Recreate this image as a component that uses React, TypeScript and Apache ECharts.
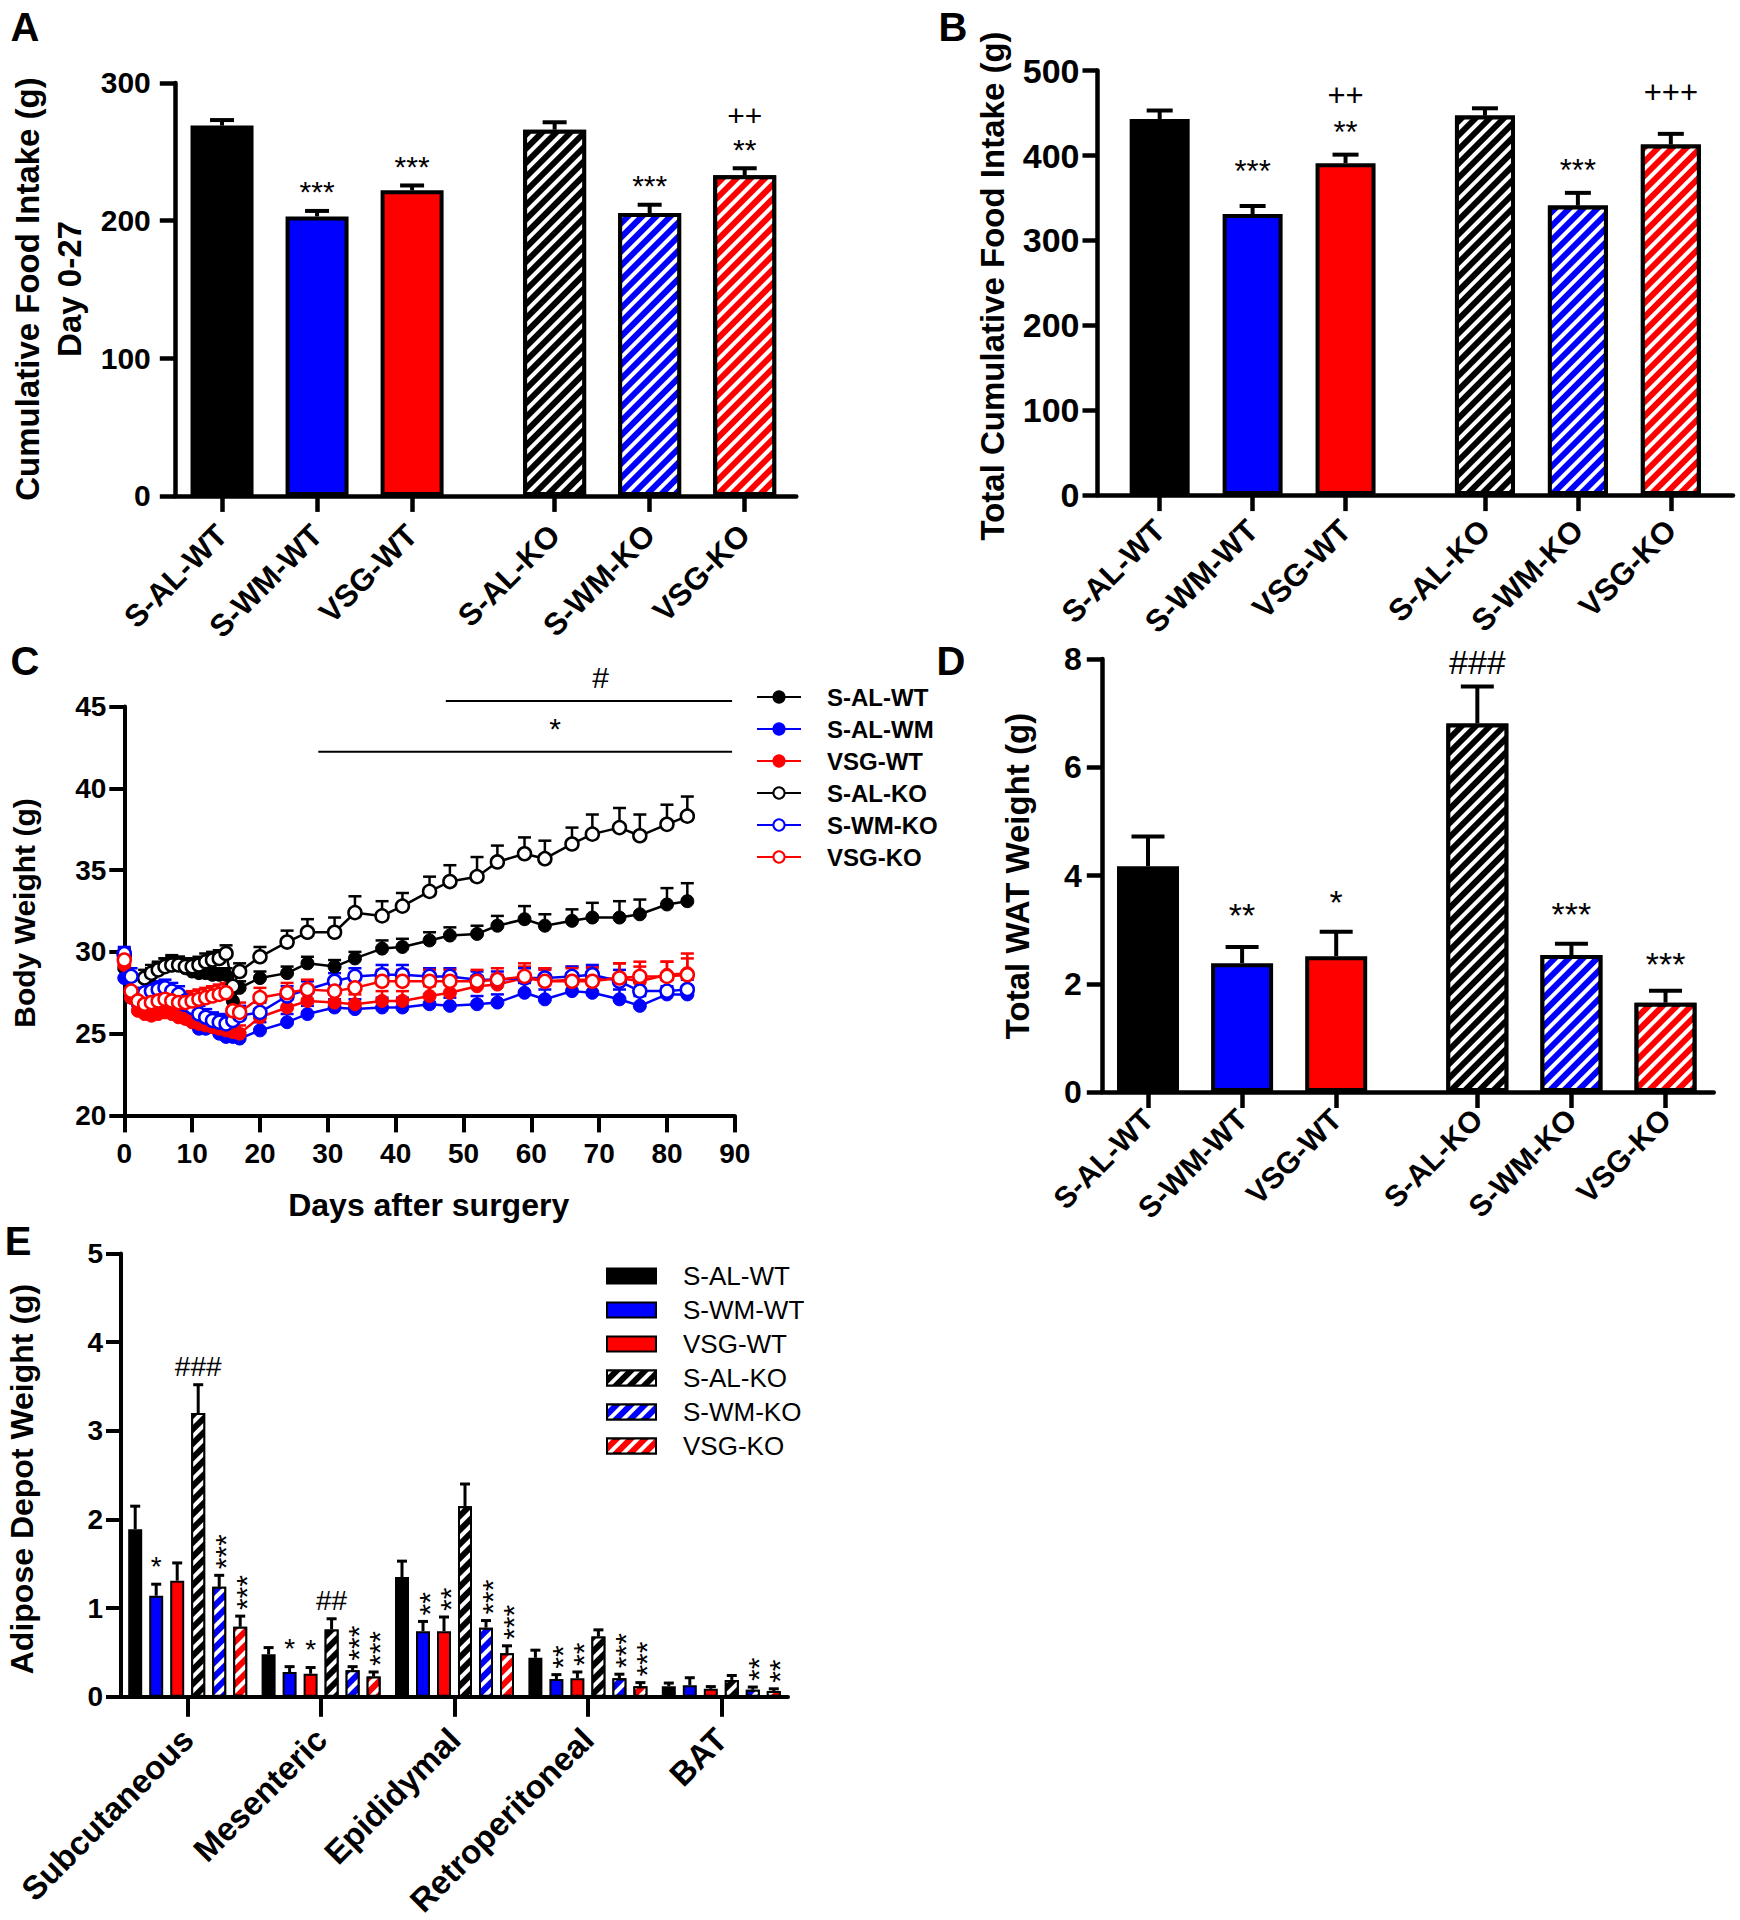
import { useEffect, useRef } from 'react';
import * as echarts from 'echarts';

const FONT = "'Liberation Sans', Arial, Helvetica, sans-serif";

// ---------- Panels A, B, D (six groups) ----------
const GROUPS = ['S-AL-WT', 'S-WM-WT', 'VSG-WT', 'S-AL-KO', 'S-WM-KO', 'VSG-KO'];
const GROUP_POS = [0, 1, 2, 3.5, 4.5, 5.5];
const GROUP_COLORS = ['#000000', '#0000ff', '#ff0000', '#000000', '#0000ff', '#ff0000'];
const GROUP_HATCH = [false, false, false, true, true, true];

const A_MEAN = [269, 203, 222, 266, 205.5, 233];
const A_SEM = [4, 4, 3.5, 5.4, 6, 5];
const A_SIG = ['', '***', '***', '', '***', '++\n**'];

const B_MEAN = [443, 331, 391, 447, 341, 413];
const B_SEM = [10, 9.5, 10, 8.6, 15, 12.5];
const B_SIG = ['', '***', '++\n**', '', '***', '+++'];

const D_MEAN = [4.17, 2.38, 2.51, 6.81, 2.53, 1.65];
const D_SEM = [0.55, 0.3, 0.45, 0.68, 0.21, 0.22];
const D_SIG = ['', '**', '*', '###', '***', '***'];

// extra lift (px) of some annotation labels above their error caps (layout only)
const A_LIFT = [0, 0, 0, 0, 0, 0];
const B_LIFT = [0, 12, 0, 0, 0, 19];
const D_LIFT = [0, 2, 0, -5, 0, -3];

// ---------- Panel C (body weight time course) ----------
const DAYS = [0, 1, 2, 3, 4, 5, 6, 7, 8, 9, 10, 11, 12, 13, 14, 15, 16, 17,
  20, 24, 27, 31, 34, 38, 41, 45, 48, 52, 55, 59, 62, 66, 69, 73, 76, 80, 83];

const BW_SAL_WT = [29.0, 27.4, 27.7, 28.2, 28.6, 28.9, 29.2, 29.4, 29.3, 29.0, 28.8, 28.7, 28.7, 28.6, 28.6, 28.6, 27.0, 27.8,
  28.4, 28.7, 29.3, 29.1, 29.6, 30.2, 30.3, 30.7, 31.0, 31.1, 31.6, 32.0, 31.6, 31.9, 32.1, 32.1, 32.3, 32.9, 33.1];
const SEM_SAL_WT = [0.4, 0.4, 0.4, 0.4, 0.4, 0.4, 0.4, 0.4, 0.4, 0.4, 0.4, 0.4, 0.4, 0.4, 0.4, 0.4, 0.5, 0.4,
  0.4, 0.4, 0.4, 0.4, 0.4, 0.5, 0.5, 0.5, 0.5, 0.5, 0.6, 0.8, 0.7, 0.7, 0.9, 1.0, 0.9, 1.0, 1.1];

const BW_SAL_WM = [28.4, 27.2, 26.8, 26.6, 26.8, 27.0, 27.0, 26.8, 26.5, 26.1, 25.7, 25.3, 25.3, 25.4, 25.0, 24.8, 24.8, 24.7,
  25.2, 25.7, 26.2, 26.6, 26.5, 26.6, 26.6, 26.8, 26.7, 26.8, 26.9, 27.5, 27.1, 27.6, 27.5, 27.1, 26.7, 27.4, 27.4];
const SEM_SAL_WM = [0.5, 0.5, 0.4, 0.4, 0.4, 0.4, 0.4, 0.4, 0.4, 0.4, 0.4, 0.4, 0.4, 0.4, 0.4, 0.4, 0.4, 0.4,
  0.5, 0.5, 0.5, 0.5, 0.6, 0.6, 0.6, 0.5, 0.5, 0.5, 0.5, 0.6, 0.6, 0.6, 0.6, 0.6, 0.6, 0.5, 0.5];

const BW_VSG_WT = [29.2, 27.2, 26.4, 26.2, 26.1, 26.2, 26.3, 26.2, 26.0, 25.9, 25.7, 25.6, 25.5, 25.4, 25.3, 25.2, 25.1, 25.0,
  26.0, 26.6, 27.0, 26.9, 26.8, 27.0, 27.0, 27.3, 27.5, 27.9, 28.0, 28.4, 28.2, 28.3, 28.3, 28.4, 28.2, 28.6, 28.7];
const SEM_VSG_WT = [0.5, 0.4, 0.4, 0.4, 0.4, 0.4, 0.4, 0.4, 0.5, 0.5, 0.5, 0.5, 0.5, 0.5, 0.5, 0.5, 0.5, 0.5,
  0.5, 0.5, 0.6, 0.6, 0.6, 0.6, 0.6, 0.6, 0.6, 0.6, 0.6, 0.7, 0.7, 0.8, 0.8, 0.9, 0.9, 0.8, 1.2];

const BW_SAL_KO = [29.8, 27.6, 28.0, 28.4, 28.7, 28.9, 29.1, 29.2, 29.2, 29.1, 29.1, 29.2, 29.4, 29.5, 29.6, 29.9, 27.9, 28.8,
  29.7, 30.6, 31.2, 31.2, 32.4, 32.2, 32.8, 33.7, 34.3, 34.6, 35.5, 36.0, 35.7, 36.6, 37.2, 37.6, 37.1, 37.8, 38.3];
const SEM_SAL_KO = [0.4, 0.5, 0.5, 0.5, 0.5, 0.5, 0.5, 0.5, 0.5, 0.5, 0.5, 0.5, 0.5, 0.5, 0.5, 0.5, 0.6, 0.5,
  0.6, 0.7, 0.8, 0.9, 1.0, 0.9, 0.8, 0.9, 1.0, 1.2, 1.0, 1.0, 1.1, 1.0, 1.2, 1.2, 1.3, 1.2, 1.2];

const BW_SWM_KO = [29.9, 28.5, 27.4, 27.5, 27.6, 27.7, 27.8, 27.6, 27.4, 27.0, 26.6, 26.2, 26.0, 25.8, 25.7, 25.6, 25.8, 26.1,
  26.3, 27.3, 27.7, 28.2, 28.5, 28.6, 28.6, 28.5, 28.5, 28.3, 28.3, 28.4, 28.4, 28.5, 28.6, 28.2, 27.6, 27.6, 27.7];
const SEM_SWM_KO = [0.4, 0.5, 0.5, 0.5, 0.5, 0.5, 0.5, 0.5, 0.5, 0.5, 0.5, 0.5, 0.5, 0.5, 0.5, 0.5, 0.6, 0.6,
  0.6, 0.6, 0.5, 0.5, 0.5, 0.6, 0.6, 0.5, 0.5, 0.5, 0.5, 0.6, 0.6, 0.6, 0.6, 0.7, 0.7, 0.7, 0.6];

const BW_VSG_KO = [29.5, 27.6, 27.0, 26.8, 26.9, 27.0, 27.1, 27.0, 26.9, 26.9, 27.0, 27.1, 27.2, 27.3, 27.4, 27.5, 26.4, 26.3,
  27.2, 27.5, 27.7, 27.6, 27.8, 28.2, 28.2, 28.2, 28.2, 28.2, 28.3, 28.5, 28.2, 28.2, 28.2, 28.4, 28.5, 28.5, 28.6];
const SEM_VSG_KO = [0.5, 0.6, 0.6, 0.6, 0.6, 0.6, 0.6, 0.6, 0.6, 0.6, 0.6, 0.6, 0.6, 0.6, 0.6, 0.6, 0.6, 0.6,
  0.6, 0.6, 0.6, 0.7, 0.8, 0.7, 0.7, 0.7, 0.7, 0.7, 0.7, 0.8, 0.8, 0.8, 0.8, 0.9, 0.9, 0.9, 1.0];

const C_NAMES = ['S-AL-WT', 'S-AL-WM', 'VSG-WT', 'S-AL-KO', 'S-WM-KO', 'VSG-KO'];
const C_COLORS = ['#000000', '#0000ff', '#ff0000', '#000000', '#0000ff', '#ff0000'];
const C_FILLED = [true, true, true, false, false, false];
const C_MEANS = [BW_SAL_WT, BW_SAL_WM, BW_VSG_WT, BW_SAL_KO, BW_SWM_KO, BW_VSG_KO];
const C_SEMS = [SEM_SAL_WT, SEM_SAL_WM, SEM_VSG_WT, SEM_SAL_KO, SEM_SWM_KO, SEM_VSG_KO];

// significance bars in C: [fromDay, toDay, weight]
const C_SIG_LINES = [[47.4, 89.6, 45.34], [28.6, 89.6, 42.24]];
const C_SIG_LABELS = ['#', '*'];
const C_SIG_LABEL_AT = [[70.2, 46.8], [63.5, 43.64]];

// ---------- Panel E (adipose depots) ----------
const DEPOTS = ['Subcutaneous', 'Mesenteric', 'Epididymal', 'Retroperitoneal', 'BAT'];
const E_SAL_WT = [1.89, 0.48, 1.35, 0.44, 0.12];
const E_SWM_WT = [1.14, 0.28, 0.74, 0.20, 0.13];
const E_VSG_WT = [1.31, 0.26, 0.74, 0.21, 0.09];
const E_SAL_KO = [3.20, 0.76, 2.15, 0.68, 0.19];
const E_SWM_KO = [1.24, 0.30, 0.78, 0.21, 0.08];
const E_VSG_KO = [0.79, 0.23, 0.49, 0.12, 0.065];
const E_SAL_WT_SEM = [0.26, 0.075, 0.18, 0.086, 0.035];
const E_SWM_WT_SEM = [0.13, 0.06, 0.11, 0.05, 0.085];
const E_VSG_WT_SEM = [0.2, 0.07, 0.16, 0.07, 0.025];
const E_SAL_KO_SEM = [0.32, 0.12, 0.25, 0.075, 0.05];
const E_SWM_KO_SEM = [0.13, 0.04, 0.08, 0.045, 0.03];
const E_VSG_KO_SEM = [0.12, 0.05, 0.085, 0.04, 0.025];
const E_SAL_WT_SIG = ['', '', '', '', ''];
const E_SWM_WT_SIG = ['*', '*', '**', '**', ''];
const E_VSG_WT_SIG = ['', '*', '**', '**', ''];
const E_SAL_KO_SIG = ['###', '##', '', '', ''];
const E_SWM_KO_SIG = ['***', '***', '***', '***', '**'];
const E_VSG_KO_SIG = ['***', '***', '***', '***', '**'];
const E_MEANS = [E_SAL_WT, E_SWM_WT, E_VSG_WT, E_SAL_KO, E_SWM_KO, E_VSG_KO];
const E_SEMS = [E_SAL_WT_SEM, E_SWM_WT_SEM, E_VSG_WT_SEM, E_SAL_KO_SEM, E_SWM_KO_SEM, E_VSG_KO_SEM];
const E_SIGS = [E_SAL_WT_SIG, E_SWM_WT_SIG, E_VSG_WT_SIG, E_SAL_KO_SIG, E_SWM_KO_SIG, E_VSG_KO_SIG];

// ---------- helpers ----------
const HATCH = {
  symbol: 'rect',
  symbolSize: 1,
  dashArrayX: [1, 0],
  dashArrayY: [4, 5.5],
  rotation: -Math.PI / 4,
  color: '#ffffff',
};

function itemStyleFor(i: number, bw: number) {
  const s: any = { color: GROUP_COLORS[i], borderColor: '#000', borderWidth: bw };
  if (GROUP_HATCH[i]) s.decal = HATCH;
  return s;
}

function yAxisOf(grid: number, min: number, max: number, interval: number, fontSize: number, margin: number, lw: number) {
  return {
    type: 'value', gridIndex: grid, min, max, interval,
    splitLine: { show: false },
    axisLine: { show: true, onZero: false, lineStyle: { color: '#000', width: lw } },
    axisTick: { show: true, length: 15, lineStyle: { color: '#000', width: lw } },
    axisLabel: { color: '#000', fontSize, fontWeight: 'bold', fontFamily: FONT, margin },
  };
}

function groupXAxis(grid: number, min: number, max: number, fontSize: number, margin: number) {
  return {
    type: 'value', gridIndex: grid, min, max,
    splitLine: { show: false },
    axisLine: { show: true, onZero: false, lineStyle: { color: '#000', width: 4.5 } },
    axisTick: { show: true, customValues: GROUP_POS, length: 16, lineStyle: { color: '#000', width: 4.5 } },
    axisLabel: {
      customValues: GROUP_POS,
      formatter: (v: number) => {
        const k = GROUP_POS.findIndex((p) => Math.abs(p - v) < 1e-6);
        return k >= 0 ? GROUPS[k] : '';
      },
      rotate: 45, color: '#000', fontSize, fontWeight: 'bold', fontFamily: FONT, margin,
    },
  };
}

function groupBars(ax: number, mean: number[], barWidth: number) {
  return {
    type: 'bar', xAxisIndex: ax, yAxisIndex: ax, barWidth, z: 2,
    emphasis: { disabled: true },
    data: mean.map((m, i) => ({ value: [GROUP_POS[i], m], itemStyle: itemStyleFor(i, 4) })),
  };
}

function groupErr(ax: number, mean: number[], sem: number[], sig: string[], lift: number[], capW: number, gap: number, fontSize: number, lineH: number) {
  return {
    type: 'custom', xAxisIndex: ax, yAxisIndex: ax, z: 5, silent: true, clip: false,
    data: mean.map((m, i) => [GROUP_POS[i], m, sem[i], i]),
    encode: { x: 0, y: 1 },
    renderItem: (params: any, api: any) => {
      const x = api.value(0);
      const m = api.value(1);
      const e = api.value(2);
      const i = api.value(3);
      const p0 = api.coord([x, m]);
      const p1 = api.coord([x, m + e]);
      const st = { stroke: '#000', lineWidth: 4 };
      const children: any[] = [
        { type: 'line', shape: { x1: p0[0], y1: p0[1], x2: p1[0], y2: p1[1] }, style: st },
        { type: 'line', shape: { x1: p1[0] - capW / 2, y1: p1[1], x2: p1[0] + capW / 2, y2: p1[1] }, style: st },
      ];
      const s = sig[i];
      if (s) {
        children.push({
          type: 'text', x: p1[0], y: p1[1] - gap - lift[i],
          style: { text: s, fill: '#000', fontSize, fontFamily: FONT, align: 'center', verticalAlign: 'bottom', lineHeight: lineH },
        });
      }
      return { type: 'group', children };
    },
  };
}

function titleText(text: string, x: number, y: number, fontSize: number, rotate: boolean, lineHeight?: number) {
  return {
    type: 'text', x, y, rotation: rotate ? Math.PI / 2 : 0, silent: true,
    style: {
      text, fill: '#000', fontSize, fontWeight: 'bold', fontFamily: FONT,
      align: 'center', verticalAlign: 'middle', lineHeight: lineHeight || fontSize,
    },
  };
}

const E_PITCH = 21;

function buildOption(): any {
  const series: any[] = [];

  // A
  series.push(groupBars(0, A_MEAN, 63));
  series.push(groupErr(0, A_MEAN, A_SEM, A_SIG, A_LIFT, 24, 2, 30, 34));
  // B
  series.push(groupBars(1, B_MEAN, 60));
  series.push(groupErr(1, B_MEAN, B_SEM, B_SIG, B_LIFT, 26, 4, 31, 37));
  // D
  series.push(groupBars(3, D_MEAN, 62));
  series.push(groupErr(3, D_MEAN, D_SEM, D_SIG, D_LIFT, 33, 12, 34, 36));

  // C error bars + lines
  C_NAMES.forEach((name, k) => {
    const col = C_COLORS[k];
    series.push({
      type: 'custom', xAxisIndex: 2, yAxisIndex: 2, z: 3, silent: true, clip: false,
      data: DAYS.map((d, i) => [d, C_MEANS[k][i], C_SEMS[k][i]]),
      encode: { x: 0, y: 1 },
      renderItem: (params: any, api: any) => {
        const d = api.value(0);
        const m = api.value(1);
        const e = api.value(2);
        const p0 = api.coord([d, m]);
        const p1 = api.coord([d, m + e]);
        const st = { stroke: col, lineWidth: 2.5 };
        return {
          type: 'group',
          children: [
            { type: 'line', shape: { x1: p0[0], y1: p0[1], x2: p1[0], y2: p1[1] }, style: st },
            { type: 'line', shape: { x1: p1[0] - 6.5, y1: p1[1], x2: p1[0] + 6.5, y2: p1[1] }, style: st },
          ],
        };
      },
    });
  });
  C_NAMES.forEach((name, k) => {
    const col = C_COLORS[k];
    series.push({
      type: 'line', name: 'C|' + name, xAxisIndex: 2, yAxisIndex: 2, z: 4,
      symbol: 'circle', symbolSize: 13, showAllSymbol: true,
      emphasis: { disabled: true },
      lineStyle: { color: col, width: 2.5 },
      itemStyle: C_FILLED[k]
        ? { color: col, borderColor: col, borderWidth: 1 }
        : { color: '#ffffff', borderColor: col, borderWidth: 2.5 },
      data: DAYS.map((d, i) => [d, C_MEANS[k][i]]),
    });
  });
  // C significance bars
  series.push({
    type: 'custom', xAxisIndex: 2, yAxisIndex: 2, z: 6, silent: true, clip: false,
    data: C_SIG_LINES.map((l, i) => [l[0], l[2], i]),
    encode: { x: 0, y: 1 },
    renderItem: (params: any, api: any) => {
      const i = api.value(2);
      const l = C_SIG_LINES[i];
      const a = api.coord([l[0], l[2]]);
      const b = api.coord([l[1], l[2]]);
      const t = api.coord(C_SIG_LABEL_AT[i]);
      return {
        type: 'group',
        children: [
          { type: 'line', shape: { x1: a[0], y1: a[1], x2: b[0], y2: b[1] }, style: { stroke: '#000', lineWidth: 2 } },
          {
            type: 'text', x: t[0], y: t[1],
            style: { text: C_SIG_LABELS[i], fill: '#000', fontSize: 30, fontFamily: FONT, align: 'center', verticalAlign: 'middle' },
          },
        ],
      };
    },
  });

  // E bars
  GROUPS.forEach((g, k) => {
    const st: any = { color: GROUP_COLORS[k], borderColor: '#000', borderWidth: 2 };
    if (GROUP_HATCH[k]) st.decal = HATCH;
    series.push({
      type: 'bar', name: 'E|' + g, xAxisIndex: 4, yAxisIndex: 4, z: 2,
      barWidth: 14, barGap: '50%',
      emphasis: { disabled: true },
      itemStyle: st,
      data: E_MEANS[k],
    });
  });
  GROUPS.forEach((g, k) => {
    const sig = E_SIGS[k];
    series.push({
      type: 'custom', xAxisIndex: 4, yAxisIndex: 4, z: 5, silent: true, clip: false,
      data: E_MEANS[k].map((m, i) => [i, m, E_SEMS[k][i]]),
      encode: { x: 0, y: 1 },
      renderItem: (params: any, api: any) => {
        const i = api.value(0);
        const m = api.value(1);
        const e = api.value(2);
        const off = (k - 2.5) * E_PITCH;
        const p0 = api.coord([i, m]);
        const p1 = api.coord([i, m + e]);
        const x = p0[0] + off;
        const st = { stroke: '#000', lineWidth: 3 };
        const children: any[] = [
          { type: 'line', shape: { x1: x, y1: p0[1], x2: x, y2: p1[1] }, style: st },
          { type: 'line', shape: { x1: x - 5, y1: p1[1], x2: x + 5, y2: p1[1] }, style: st },
        ];
        const s = sig[i];
        if (s) {
          const stacked = /^\*+$/.test(s) && s.length > 1;
          if (stacked) {
            children.push({
              type: 'text', x: x + 6, y: p1[1] - 6, rotation: Math.PI / 2,
              style: { text: s, fill: '#000', fontSize: 30, fontFamily: FONT, align: 'left', verticalAlign: 'middle' },
            });
          } else {
            children.push({
              type: 'text', x, y: p1[1] - 4,
              style: { text: s, fill: '#000', fontSize: 28, fontFamily: FONT, align: 'center', verticalAlign: 'bottom' },
            });
          }
        }
        return { type: 'group', children };
      },
    });
  });

  return {
    animation: false,
    backgroundColor: '#ffffff',
    textStyle: { fontFamily: FONT },
    grid: [
      { left: 174.8, top: 82.9, width: 621.5, height: 413, containLabel: false, outerBoundsMode: 'none' },
      { left: 1097.5, top: 70.6, width: 635.5, height: 424.5, containLabel: false, outerBoundsMode: 'none' },
      { left: 124.3, top: 706.6, width: 610.5, height: 408.8, containLabel: false, outerBoundsMode: 'none' },
      { left: 1101.8, top: 659, width: 611.9, height: 433, containLabel: false, outerBoundsMode: 'none' },
      { left: 121, top: 1253.5, width: 667, height: 443.3, containLabel: false, outerBoundsMode: 'none' },
    ],
    xAxis: [
      groupXAxis(0, -0.497, 6.043, 31, 34),
      groupXAxis(1, -0.669, 6.169, 31, 30),
      {
        type: 'value', gridIndex: 2, min: 0, max: 90, interval: 10,
        splitLine: { show: false },
        axisLine: { show: true, onZero: false, lineStyle: { color: '#000', width: 4 } },
        axisTick: { show: true, length: 17, lineStyle: { color: '#000', width: 4 } },
        axisLabel: { color: '#000', fontSize: 28, fontWeight: 'bold', fontFamily: FONT, margin: 24 },
      },
      groupXAxis(3, -0.491, 6.012, 30, 22),
      {
        type: 'category', gridIndex: 4, data: DEPOTS,
        axisLine: { show: true, onZero: false, lineStyle: { color: '#000', width: 4 } },
        axisTick: { show: true, alignWithLabel: true, length: 20, lineStyle: { color: '#000', width: 4 } },
        axisLabel: { interval: 0, rotate: 45, color: '#000', fontSize: 33, fontWeight: 'bold', fontFamily: FONT, margin: 37 },
      },
    ],
    yAxis: [
      yAxisOf(0, 0, 300, 100, 30, 24, 4.5),
      yAxisOf(1, 0, 500, 100, 34, 18, 4.5),
      yAxisOf(2, 20, 45, 5, 28, 18, 4),
      yAxisOf(3, 0, 8, 2, 32, 20, 4.5),
      yAxisOf(4, 0, 5, 1, 28, 18, 4),
    ],
    legend: [
      {
        data: C_NAMES.map((n) => 'C|' + n),
        formatter: (n: string) => n.split('|')[1],
        orient: 'vertical', left: 756, top: 685, padding: 0,
        itemWidth: 44, itemHeight: 14, itemGap: 8, selectedMode: false,
        textStyle: { color: '#000', fontSize: 24, fontWeight: 'bold', fontFamily: FONT, lineHeight: 24, padding: [0, 0, 0, 21] },
      },
      {
        data: GROUPS.map((n) => 'E|' + n),
        formatter: (n: string) => n.split('|')[1],
        orient: 'vertical', left: 606, top: 1263, padding: 0,
        itemWidth: 49, itemHeight: 15, itemGap: 8, selectedMode: false, icon: 'rect',
        textStyle: { color: '#000', fontSize: 26, fontFamily: FONT, lineHeight: 26, padding: [0, 0, 0, 22] },
      },
    ],
    graphic: [
      titleText('A', 25, 27, 40, false),
      titleText('B', 953, 27, 40, false),
      titleText('C', 25, 661, 40, false),
      titleText('D', 951, 661, 40, false),
      titleText('E', 18, 1241, 40, false),
      titleText('Cumulative Food Intake (g)\nDay 0-27', 48.5, 289, 33, true, 42),
      titleText('Total Cumulative Food Intake (g)', 992, 286, 33, true),
      titleText('Body Weight (g)', 24.5, 913, 30, true),
      titleText('Days after surgery', 428.7, 1205, 32, false),
      titleText('Total WAT Weight (g)', 1017, 876, 33, true),
      titleText('Adipose Depot Weight (g)', 22, 1479, 32, true),
    ],
    series,
  };
}

export default function App() {
  const ref = useRef<HTMLDivElement>(null);
  useEffect(() => {
    document.body.style.margin = '0';
    const chart = echarts.init(ref.current as HTMLDivElement, null, { renderer: 'svg', width: 1740, height: 1920 });
    chart.setOption(buildOption());
    return () => chart.dispose();
  }, []);
  return <div ref={ref} style={{ width: 1740, height: 1920, background: '#ffffff' }} />;
}
